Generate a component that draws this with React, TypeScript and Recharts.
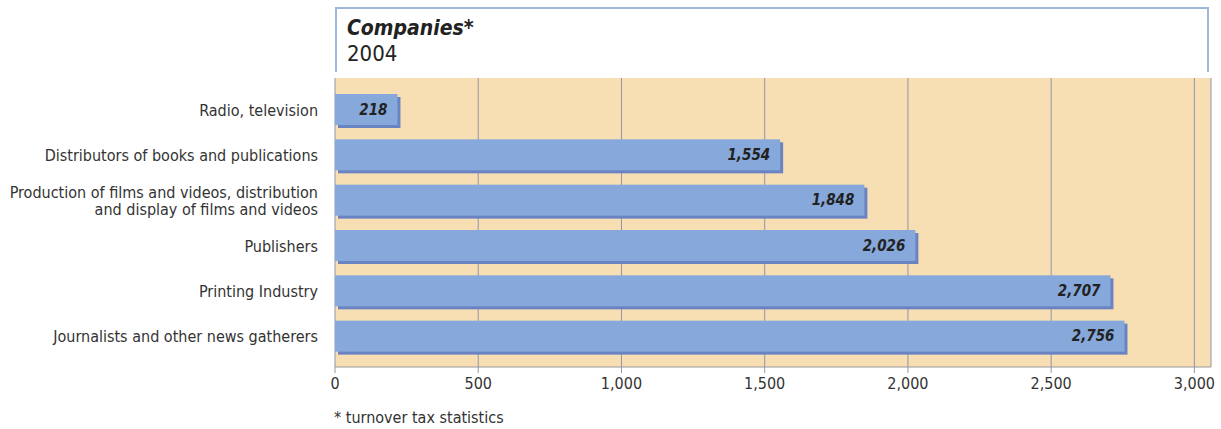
import { BarChart, Bar, XAxis, YAxis, CartesianGrid, LabelList } from 'recharts';

const categories = [
    'Radio, television',
    'Distributors of books and publications',
    'Production of films and videos, distribution\nand display of films and videos',
    'Publishers',
    'Printing Industry',
    'Journalists and other news gatherers',
];
const companies = [218, 1554, 1848, 2026, 2707, 2756];
const xTicks = [0, 500, 1000, 1500, 2000, 2500, 3000];

const FONT = '"Liberation Sans Narrow", "DejaVu Sans Condensed", "Roboto", sans-serif';
const TEXT = '#333333';

const data = categories.map((name, i) => ({ name, value: companies[i] }));

// bar with a darker shadow offset to the lower right
const ShadowBar = (props: any) => {
    const { x, y, width, height } = props;
    if (!width || width <= 0) return null;
    return (
        <g>
            <rect x={x + 3} y={y + 3} width={width} height={height} fill="#6a84c3" />
            <rect x={x} y={y} width={width} height={height} fill="#86a8da" />
        </g>
    );
};

const CategoryTick = (props: any) => {
    const { x, y, payload } = props;
    const lines = String(payload.value).split('\n');
    const lh = 17;
    const startY = y - ((lines.length - 1) * lh) / 2;
    return (
        <text x={x} y={startY} textAnchor="end" fill={TEXT} fontSize={16} fontFamily={FONT} dominantBaseline="central">
            {lines.map((l, i) => (
                <tspan key={i} x={x} y={startY + i * lh}>{l}</tspan>
            ))}
        </text>
    );
};

export default function App() {
    return (
        <div style={{ position: 'absolute', left: 0, top: 0, width: 1221, height: 429, background: '#fff', fontFamily: FONT }}>
            {/* 제목 박스 */}
            <div style={{
                position: 'absolute', left: 335, top: 7, width: 874, height: 65,
                borderTop: '2px solid #9fb6df', borderLeft: '2px solid #9fb6df', borderRight: '2px solid #9fb6df',
                boxSizing: 'border-box', paddingLeft: 10, paddingTop: 6, color: '#222',
            }}>
                <div style={{ fontSize: 21, fontWeight: 'bold', fontStyle: 'italic', lineHeight: '26px' }}>Companies*</div>
                <div style={{ fontSize: 22, lineHeight: '26px' }}>2004</div>
            </div>

            <div style={{ position: 'absolute', left: 0, top: 0 }}>
                <BarChart
                    width={1221}
                    height={429}
                    data={data}
                    layout="vertical"
                    margin={{ top: 78, right: 10, bottom: 32, left: 0 }}
                    barSize={31}
                >
                    <CartesianGrid horizontal={false} stroke="#8f96a8" fill="#f8dfb3" fillOpacity={1} />
                    <XAxis
                        type="number"
                        domain={[0, 3058]}
                        ticks={xTicks}
                        allowDataOverflow
                        height={30}
                        tickSize={6}
                        tickMargin={5}
                        stroke="#999999"
                        tick={{ fill: TEXT, fontSize: 16, fontFamily: FONT }}
                        tickFormatter={(v: number) => v.toLocaleString('en-US')}
                    />
                    <YAxis
                        type="category"
                        dataKey="name"
                        width={335}
                        axisLine={false}
                        tickLine={false}
                        tickSize={0}
                        tickMargin={17}
                        padding={{ top: 9, bottom: 8 }}
                        tick={<CategoryTick />}
                        interval={0}
                    />
                    <Bar dataKey="value" shape={<ShadowBar />} isAnimationActive={false}>
                        <LabelList
                            dataKey="value"
                            position="insideRight"
                            offset={10}
                            formatter={(v: any) => Number(v).toLocaleString('en-US')}
                            style={{ fill: '#222', fontSize: 15, fontWeight: 'bold', fontStyle: 'italic', fontFamily: FONT }}
                        />
                    </Bar>
                </BarChart>
            </div>

            <div style={{ position: 'absolute', left: 334, top: 408, fontSize: 16, color: TEXT }}>* turnover tax statistics</div>
        </div>
    );
}
